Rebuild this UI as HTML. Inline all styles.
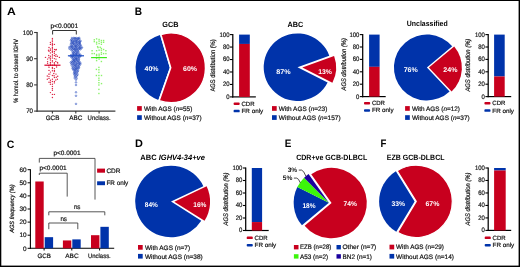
<!DOCTYPE html>
<html><head><meta charset="utf-8"><style>
html,body{margin:0;padding:0;background:#fff;}
body{width:520px;height:267px;overflow:hidden;}
svg{display:block;font-family:"Liberation Sans",sans-serif;text-rendering:geometricPrecision;will-change:transform;}
</style></head><body>
<svg width="520" height="267" viewBox="0 0 520 267" xmlns="http://www.w3.org/2000/svg">
<rect width="520" height="267" fill="#fff"/>
<rect x="0.00" y="0.00" width="520.00" height="1.00" fill="#000"/>
<rect x="0.00" y="0.00" width="1.30" height="267.00" fill="#000"/>
<rect x="518.60" y="0.00" width="1.40" height="267.00" fill="#000"/>
<rect x="0.00" y="265.60" width="520.00" height="1.40" fill="#000"/>
<text x="7.00" y="14.60" font-size="10.8" font-weight="bold" font-style="normal" fill="#000" stroke="#000" stroke-width="0.0" textLength="8.80" lengthAdjust="spacingAndGlyphs">A</text>
<text x="134.80" y="14.60" font-size="10.8" font-weight="bold" font-style="normal" fill="#000" stroke="#000" stroke-width="0.0" textLength="7.30" lengthAdjust="spacingAndGlyphs">B</text>
<text x="6.70" y="147.60" font-size="10.8" font-weight="bold" font-style="normal" fill="#000" stroke="#000" stroke-width="0.0" textLength="7.60" lengthAdjust="spacingAndGlyphs">C</text>
<text x="134.90" y="147.20" font-size="10.8" font-weight="bold" font-style="normal" fill="#000" stroke="#000" stroke-width="0.0" textLength="7.90" lengthAdjust="spacingAndGlyphs">D</text>
<text x="284.70" y="147.20" font-size="10.8" font-weight="bold" font-style="normal" fill="#000" stroke="#000" stroke-width="0.0" textLength="6.60" lengthAdjust="spacingAndGlyphs">E</text>
<text x="380.40" y="147.00" font-size="10.8" font-weight="bold" font-style="normal" fill="#000" stroke="#000" stroke-width="0.0" textLength="5.90" lengthAdjust="spacingAndGlyphs">F</text>
<line x1="37.10" y1="31.90" x2="37.10" y2="111.80" stroke="#3a3a3a" stroke-width="1.3"/>
<line x1="36.50" y1="111.10" x2="115.40" y2="111.10" stroke="#3a3a3a" stroke-width="1.3"/>
<line x1="34.10" y1="32.50" x2="37.10" y2="32.50" stroke="#3a3a3a" stroke-width="1.1"/>
<text x="22.73" y="34.80" font-size="6.5" font-weight="normal" fill="#151515" stroke="#151515" stroke-width="0.2" textLength="10.30" lengthAdjust="spacingAndGlyphs">100</text>
<line x1="34.10" y1="58.70" x2="37.10" y2="58.70" stroke="#3a3a3a" stroke-width="1.1"/>
<text x="26.16" y="61.00" font-size="6.5" font-weight="normal" fill="#151515" stroke="#151515" stroke-width="0.2" textLength="6.87" lengthAdjust="spacingAndGlyphs">90</text>
<line x1="34.10" y1="84.90" x2="37.10" y2="84.90" stroke="#3a3a3a" stroke-width="1.1"/>
<text x="26.16" y="87.20" font-size="6.5" font-weight="normal" fill="#151515" stroke="#151515" stroke-width="0.2" textLength="6.87" lengthAdjust="spacingAndGlyphs">80</text>
<line x1="34.10" y1="111.10" x2="37.10" y2="111.10" stroke="#3a3a3a" stroke-width="1.1"/>
<text x="26.16" y="113.40" font-size="6.5" font-weight="normal" fill="#151515" stroke="#151515" stroke-width="0.2" textLength="6.87" lengthAdjust="spacingAndGlyphs">70</text>
<line x1="52.40" y1="111.10" x2="52.40" y2="113.60" stroke="#3a3a3a" stroke-width="1.1"/>
<text x="45.71" y="120.10" font-size="6.4" font-weight="normal" font-style="normal" fill="#151515" stroke="#151515" stroke-width="0.2" textLength="13.68" lengthAdjust="spacingAndGlyphs">GCB</text>
<line x1="75.80" y1="111.10" x2="75.80" y2="113.60" stroke="#3a3a3a" stroke-width="1.1"/>
<text x="69.21" y="120.10" font-size="6.4" font-weight="normal" font-style="normal" fill="#151515" stroke="#151515" stroke-width="0.2" textLength="13.08" lengthAdjust="spacingAndGlyphs">ABC</text>
<line x1="99.10" y1="111.10" x2="99.10" y2="113.60" stroke="#3a3a3a" stroke-width="1.1"/>
<text x="87.61" y="120.10" font-size="6.4" font-weight="normal" font-style="normal" fill="#151515" stroke="#151515" stroke-width="0.2" textLength="22.98" lengthAdjust="spacingAndGlyphs">Unclass.</text>
<text transform="translate(17.70,70.90) rotate(-90)" font-size="6.3" font-style="normal" font-weight="normal" fill="#151515" stroke="#151515" stroke-width="0.2" text-anchor="middle" textLength="63.70" lengthAdjust="spacingAndGlyphs">% homol. to closest IGHV</text>
<text x="50.41" y="27.60" font-size="6.5" font-weight="normal" font-style="normal" fill="#151515" stroke="#151515" stroke-width="0.2" textLength="27.79" lengthAdjust="spacingAndGlyphs">p&lt;0.0001</text>
<path d="M52.6,34.5 V30.5 H76.3 V34.5" fill="none" stroke="#333" stroke-width="1"/>
<circle cx="52.40" cy="38.50" r="0.72" fill="#dc2848"/>
<circle cx="52.40" cy="39.90" r="0.72" fill="#dc2848"/>
<circle cx="52.40" cy="41.30" r="0.72" fill="#dc2848"/>
<circle cx="52.40" cy="43.30" r="0.72" fill="#dc2848"/>
<circle cx="52.40" cy="44.40" r="0.72" fill="#dc2848"/>
<circle cx="52.40" cy="45.80" r="0.72" fill="#dc2848"/>
<circle cx="52.40" cy="47.50" r="0.72" fill="#dc2848"/>
<circle cx="52.40" cy="48.60" r="0.72" fill="#dc2848"/>
<circle cx="52.40" cy="50.00" r="0.72" fill="#dc2848"/>
<circle cx="50.40" cy="42.50" r="0.72" fill="#dc2848"/>
<circle cx="50.40" cy="44.40" r="0.72" fill="#dc2848"/>
<circle cx="54.40" cy="44.40" r="0.72" fill="#dc2848"/>
<circle cx="49.00" cy="47.50" r="0.72" fill="#dc2848"/>
<circle cx="50.40" cy="48.90" r="0.72" fill="#dc2848"/>
<circle cx="54.60" cy="49.40" r="0.72" fill="#dc2848"/>
<circle cx="56.30" cy="49.50" r="0.72" fill="#dc2848"/>
<circle cx="48.50" cy="50.30" r="0.72" fill="#dc2848"/>
<circle cx="49.00" cy="51.20" r="0.72" fill="#dc2848"/>
<circle cx="50.40" cy="50.20" r="0.72" fill="#dc2848"/>
<circle cx="52.40" cy="51.40" r="0.72" fill="#dc2848"/>
<circle cx="54.40" cy="51.50" r="0.72" fill="#dc2848"/>
<circle cx="55.80" cy="49.90" r="0.72" fill="#dc2848"/>
<circle cx="50.40" cy="52.90" r="0.72" fill="#dc2848"/>
<circle cx="52.40" cy="52.60" r="0.72" fill="#dc2848"/>
<circle cx="54.40" cy="53.20" r="0.72" fill="#dc2848"/>
<circle cx="48.70" cy="55.50" r="0.72" fill="#dc2848"/>
<circle cx="50.40" cy="56.30" r="0.72" fill="#dc2848"/>
<circle cx="52.40" cy="54.60" r="0.72" fill="#dc2848"/>
<circle cx="52.40" cy="56.00" r="0.72" fill="#dc2848"/>
<circle cx="54.40" cy="55.50" r="0.72" fill="#dc2848"/>
<circle cx="56.00" cy="54.60" r="0.72" fill="#dc2848"/>
<circle cx="55.80" cy="56.30" r="0.72" fill="#dc2848"/>
<circle cx="57.40" cy="56.30" r="0.72" fill="#dc2848"/>
<circle cx="59.40" cy="57.40" r="0.72" fill="#dc2848"/>
<circle cx="45.50" cy="57.40" r="0.72" fill="#dc2848"/>
<circle cx="47.60" cy="59.10" r="0.72" fill="#dc2848"/>
<circle cx="49.00" cy="57.70" r="0.72" fill="#dc2848"/>
<circle cx="50.40" cy="58.30" r="0.72" fill="#dc2848"/>
<circle cx="52.40" cy="58.00" r="0.72" fill="#dc2848"/>
<circle cx="54.40" cy="58.60" r="0.72" fill="#dc2848"/>
<circle cx="56.00" cy="59.10" r="0.72" fill="#dc2848"/>
<circle cx="50.40" cy="60.00" r="0.72" fill="#dc2848"/>
<circle cx="52.40" cy="60.80" r="0.72" fill="#dc2848"/>
<circle cx="47.60" cy="61.60" r="0.72" fill="#dc2848"/>
<circle cx="50.40" cy="62.50" r="0.72" fill="#dc2848"/>
<circle cx="52.40" cy="61.90" r="0.72" fill="#dc2848"/>
<circle cx="55.80" cy="61.40" r="0.72" fill="#dc2848"/>
<circle cx="57.40" cy="62.50" r="0.72" fill="#dc2848"/>
<circle cx="54.40" cy="62.80" r="0.72" fill="#dc2848"/>
<circle cx="47.60" cy="63.30" r="0.72" fill="#dc2848"/>
<circle cx="57.70" cy="63.00" r="0.72" fill="#dc2848"/>
<circle cx="50.40" cy="64.00" r="0.72" fill="#dc2848"/>
<circle cx="54.40" cy="64.00" r="0.72" fill="#dc2848"/>
<circle cx="50.40" cy="65.30" r="0.72" fill="#dc2848"/>
<circle cx="52.40" cy="65.30" r="0.72" fill="#dc2848"/>
<circle cx="54.40" cy="65.30" r="0.72" fill="#dc2848"/>
<circle cx="48.60" cy="65.60" r="0.72" fill="#dc2848"/>
<circle cx="56.20" cy="65.60" r="0.72" fill="#dc2848"/>
<circle cx="49.00" cy="67.30" r="0.72" fill="#dc2848"/>
<circle cx="52.40" cy="67.50" r="0.72" fill="#dc2848"/>
<circle cx="56.60" cy="67.00" r="0.72" fill="#dc2848"/>
<circle cx="52.40" cy="68.60" r="0.72" fill="#dc2848"/>
<circle cx="54.40" cy="68.60" r="0.72" fill="#dc2848"/>
<circle cx="49.00" cy="70.40" r="0.72" fill="#dc2848"/>
<circle cx="50.40" cy="72.10" r="0.72" fill="#dc2848"/>
<circle cx="52.40" cy="70.70" r="0.72" fill="#dc2848"/>
<circle cx="54.40" cy="70.50" r="0.72" fill="#dc2848"/>
<circle cx="54.40" cy="71.60" r="0.72" fill="#dc2848"/>
<circle cx="48.70" cy="74.10" r="0.72" fill="#dc2848"/>
<circle cx="49.90" cy="74.10" r="0.72" fill="#dc2848"/>
<circle cx="53.80" cy="73.50" r="0.72" fill="#dc2848"/>
<circle cx="56.00" cy="74.10" r="0.72" fill="#dc2848"/>
<circle cx="47.30" cy="76.00" r="0.72" fill="#dc2848"/>
<circle cx="52.40" cy="75.50" r="0.72" fill="#dc2848"/>
<circle cx="54.10" cy="75.80" r="0.72" fill="#dc2848"/>
<circle cx="57.70" cy="76.30" r="0.72" fill="#dc2848"/>
<circle cx="49.00" cy="76.60" r="0.72" fill="#dc2848"/>
<circle cx="54.40" cy="77.50" r="0.72" fill="#dc2848"/>
<circle cx="56.30" cy="77.30" r="0.72" fill="#dc2848"/>
<circle cx="47.30" cy="79.20" r="0.72" fill="#dc2848"/>
<circle cx="49.00" cy="78.40" r="0.72" fill="#dc2848"/>
<circle cx="50.40" cy="80.30" r="0.72" fill="#dc2848"/>
<circle cx="52.40" cy="79.20" r="0.72" fill="#dc2848"/>
<circle cx="55.80" cy="80.00" r="0.72" fill="#dc2848"/>
<circle cx="57.40" cy="79.20" r="0.72" fill="#dc2848"/>
<circle cx="49.00" cy="82.30" r="0.72" fill="#dc2848"/>
<circle cx="50.40" cy="82.30" r="0.72" fill="#dc2848"/>
<circle cx="52.40" cy="81.50" r="0.72" fill="#dc2848"/>
<circle cx="54.40" cy="81.50" r="0.72" fill="#dc2848"/>
<circle cx="54.40" cy="82.90" r="0.72" fill="#dc2848"/>
<circle cx="50.40" cy="84.30" r="0.72" fill="#dc2848"/>
<circle cx="52.40" cy="84.30" r="0.72" fill="#dc2848"/>
<circle cx="52.40" cy="86.40" r="0.72" fill="#dc2848"/>
<circle cx="52.40" cy="88.50" r="0.72" fill="#dc2848"/>
<circle cx="52.40" cy="90.20" r="0.72" fill="#dc2848"/>
<circle cx="50.40" cy="92.60" r="0.72" fill="#dc2848"/>
<circle cx="52.40" cy="94.40" r="0.72" fill="#dc2848"/>
<circle cx="54.40" cy="94.40" r="0.72" fill="#dc2848"/>
<circle cx="52.40" cy="97.50" r="0.72" fill="#dc2848"/>
<circle cx="71.91" cy="38.05" r="0.8" fill="none" stroke="#2248bc" stroke-width="0.55"/>
<circle cx="73.79" cy="37.97" r="0.8" fill="none" stroke="#2248bc" stroke-width="0.55"/>
<circle cx="74.96" cy="38.07" r="0.8" fill="none" stroke="#2248bc" stroke-width="0.55"/>
<circle cx="76.20" cy="38.01" r="0.8" fill="none" stroke="#2248bc" stroke-width="0.55"/>
<circle cx="78.05" cy="38.23" r="0.8" fill="none" stroke="#2248bc" stroke-width="0.55"/>
<circle cx="79.13" cy="37.85" r="0.8" fill="none" stroke="#2248bc" stroke-width="0.55"/>
<circle cx="71.62" cy="39.54" r="0.8" fill="none" stroke="#2248bc" stroke-width="0.55"/>
<circle cx="73.60" cy="38.94" r="0.8" fill="none" stroke="#2248bc" stroke-width="0.55"/>
<circle cx="75.34" cy="39.66" r="0.8" fill="none" stroke="#2248bc" stroke-width="0.55"/>
<circle cx="76.57" cy="39.39" r="0.8" fill="none" stroke="#2248bc" stroke-width="0.55"/>
<circle cx="77.68" cy="38.92" r="0.8" fill="none" stroke="#2248bc" stroke-width="0.55"/>
<circle cx="79.47" cy="38.96" r="0.8" fill="none" stroke="#2248bc" stroke-width="0.55"/>
<circle cx="70.95" cy="40.40" r="0.8" fill="none" stroke="#2248bc" stroke-width="0.55"/>
<circle cx="72.32" cy="40.57" r="0.8" fill="none" stroke="#2248bc" stroke-width="0.55"/>
<circle cx="74.15" cy="40.87" r="0.8" fill="none" stroke="#2248bc" stroke-width="0.55"/>
<circle cx="75.72" cy="40.71" r="0.8" fill="none" stroke="#2248bc" stroke-width="0.55"/>
<circle cx="77.20" cy="40.73" r="0.8" fill="none" stroke="#2248bc" stroke-width="0.55"/>
<circle cx="78.67" cy="40.43" r="0.8" fill="none" stroke="#2248bc" stroke-width="0.55"/>
<circle cx="80.60" cy="40.99" r="0.8" fill="none" stroke="#2248bc" stroke-width="0.55"/>
<circle cx="71.47" cy="42.06" r="0.8" fill="none" stroke="#2248bc" stroke-width="0.55"/>
<circle cx="72.55" cy="41.69" r="0.8" fill="none" stroke="#2248bc" stroke-width="0.55"/>
<circle cx="74.03" cy="41.56" r="0.8" fill="none" stroke="#2248bc" stroke-width="0.55"/>
<circle cx="75.91" cy="41.82" r="0.8" fill="none" stroke="#2248bc" stroke-width="0.55"/>
<circle cx="77.48" cy="41.81" r="0.8" fill="none" stroke="#2248bc" stroke-width="0.55"/>
<circle cx="79.07" cy="42.17" r="0.8" fill="none" stroke="#2248bc" stroke-width="0.55"/>
<circle cx="79.80" cy="41.67" r="0.8" fill="none" stroke="#2248bc" stroke-width="0.55"/>
<circle cx="71.53" cy="43.18" r="0.8" fill="none" stroke="#2248bc" stroke-width="0.55"/>
<circle cx="73.08" cy="43.12" r="0.8" fill="none" stroke="#2248bc" stroke-width="0.55"/>
<circle cx="73.86" cy="43.30" r="0.8" fill="none" stroke="#2248bc" stroke-width="0.55"/>
<circle cx="75.92" cy="43.02" r="0.8" fill="none" stroke="#2248bc" stroke-width="0.55"/>
<circle cx="76.87" cy="43.07" r="0.8" fill="none" stroke="#2248bc" stroke-width="0.55"/>
<circle cx="79.07" cy="43.40" r="0.8" fill="none" stroke="#2248bc" stroke-width="0.55"/>
<circle cx="79.89" cy="43.00" r="0.8" fill="none" stroke="#2248bc" stroke-width="0.55"/>
<circle cx="70.88" cy="44.16" r="0.8" fill="none" stroke="#2248bc" stroke-width="0.55"/>
<circle cx="72.94" cy="44.25" r="0.8" fill="none" stroke="#2248bc" stroke-width="0.55"/>
<circle cx="74.25" cy="44.46" r="0.8" fill="none" stroke="#2248bc" stroke-width="0.55"/>
<circle cx="75.45" cy="44.68" r="0.8" fill="none" stroke="#2248bc" stroke-width="0.55"/>
<circle cx="76.90" cy="44.61" r="0.8" fill="none" stroke="#2248bc" stroke-width="0.55"/>
<circle cx="78.39" cy="44.44" r="0.8" fill="none" stroke="#2248bc" stroke-width="0.55"/>
<circle cx="79.97" cy="44.32" r="0.8" fill="none" stroke="#2248bc" stroke-width="0.55"/>
<circle cx="70.83" cy="46.04" r="0.8" fill="none" stroke="#2248bc" stroke-width="0.55"/>
<circle cx="71.79" cy="46.10" r="0.8" fill="none" stroke="#2248bc" stroke-width="0.55"/>
<circle cx="73.22" cy="45.72" r="0.8" fill="none" stroke="#2248bc" stroke-width="0.55"/>
<circle cx="75.23" cy="45.91" r="0.8" fill="none" stroke="#2248bc" stroke-width="0.55"/>
<circle cx="76.13" cy="46.18" r="0.8" fill="none" stroke="#2248bc" stroke-width="0.55"/>
<circle cx="77.72" cy="45.61" r="0.8" fill="none" stroke="#2248bc" stroke-width="0.55"/>
<circle cx="79.67" cy="45.67" r="0.8" fill="none" stroke="#2248bc" stroke-width="0.55"/>
<circle cx="80.79" cy="45.47" r="0.8" fill="none" stroke="#2248bc" stroke-width="0.55"/>
<circle cx="69.37" cy="47.16" r="0.8" fill="none" stroke="#2248bc" stroke-width="0.55"/>
<circle cx="70.99" cy="47.18" r="0.8" fill="none" stroke="#2248bc" stroke-width="0.55"/>
<circle cx="72.60" cy="47.06" r="0.8" fill="none" stroke="#2248bc" stroke-width="0.55"/>
<circle cx="74.57" cy="47.09" r="0.8" fill="none" stroke="#2248bc" stroke-width="0.55"/>
<circle cx="75.76" cy="47.39" r="0.8" fill="none" stroke="#2248bc" stroke-width="0.55"/>
<circle cx="76.95" cy="46.83" r="0.8" fill="none" stroke="#2248bc" stroke-width="0.55"/>
<circle cx="79.03" cy="47.35" r="0.8" fill="none" stroke="#2248bc" stroke-width="0.55"/>
<circle cx="80.00" cy="46.86" r="0.8" fill="none" stroke="#2248bc" stroke-width="0.55"/>
<circle cx="81.89" cy="47.44" r="0.8" fill="none" stroke="#2248bc" stroke-width="0.55"/>
<circle cx="69.46" cy="48.75" r="0.8" fill="none" stroke="#2248bc" stroke-width="0.55"/>
<circle cx="71.51" cy="48.48" r="0.8" fill="none" stroke="#2248bc" stroke-width="0.55"/>
<circle cx="72.64" cy="48.09" r="0.8" fill="none" stroke="#2248bc" stroke-width="0.55"/>
<circle cx="73.83" cy="48.76" r="0.8" fill="none" stroke="#2248bc" stroke-width="0.55"/>
<circle cx="75.49" cy="48.56" r="0.8" fill="none" stroke="#2248bc" stroke-width="0.55"/>
<circle cx="77.01" cy="48.65" r="0.8" fill="none" stroke="#2248bc" stroke-width="0.55"/>
<circle cx="78.78" cy="48.24" r="0.8" fill="none" stroke="#2248bc" stroke-width="0.55"/>
<circle cx="79.94" cy="48.57" r="0.8" fill="none" stroke="#2248bc" stroke-width="0.55"/>
<circle cx="81.36" cy="48.19" r="0.8" fill="none" stroke="#2248bc" stroke-width="0.55"/>
<circle cx="71.25" cy="49.97" r="0.8" fill="none" stroke="#2248bc" stroke-width="0.55"/>
<circle cx="72.79" cy="49.53" r="0.8" fill="none" stroke="#2248bc" stroke-width="0.55"/>
<circle cx="74.53" cy="49.47" r="0.8" fill="none" stroke="#2248bc" stroke-width="0.55"/>
<circle cx="75.31" cy="49.52" r="0.8" fill="none" stroke="#2248bc" stroke-width="0.55"/>
<circle cx="77.16" cy="49.36" r="0.8" fill="none" stroke="#2248bc" stroke-width="0.55"/>
<circle cx="78.44" cy="49.60" r="0.8" fill="none" stroke="#2248bc" stroke-width="0.55"/>
<circle cx="80.26" cy="49.41" r="0.8" fill="none" stroke="#2248bc" stroke-width="0.55"/>
<circle cx="72.59" cy="51.30" r="0.8" fill="none" stroke="#2248bc" stroke-width="0.55"/>
<circle cx="74.58" cy="51.12" r="0.8" fill="none" stroke="#2248bc" stroke-width="0.55"/>
<circle cx="75.85" cy="51.07" r="0.8" fill="none" stroke="#2248bc" stroke-width="0.55"/>
<circle cx="76.91" cy="50.64" r="0.8" fill="none" stroke="#2248bc" stroke-width="0.55"/>
<circle cx="78.31" cy="51.32" r="0.8" fill="none" stroke="#2248bc" stroke-width="0.55"/>
<circle cx="72.86" cy="52.66" r="0.8" fill="none" stroke="#2248bc" stroke-width="0.55"/>
<circle cx="73.82" cy="52.41" r="0.8" fill="none" stroke="#2248bc" stroke-width="0.55"/>
<circle cx="75.69" cy="52.48" r="0.8" fill="none" stroke="#2248bc" stroke-width="0.55"/>
<circle cx="77.06" cy="52.69" r="0.8" fill="none" stroke="#2248bc" stroke-width="0.55"/>
<circle cx="78.36" cy="52.34" r="0.8" fill="none" stroke="#2248bc" stroke-width="0.55"/>
<circle cx="72.89" cy="53.91" r="0.8" fill="none" stroke="#2248bc" stroke-width="0.55"/>
<circle cx="74.39" cy="53.76" r="0.8" fill="none" stroke="#2248bc" stroke-width="0.55"/>
<circle cx="75.93" cy="53.92" r="0.8" fill="none" stroke="#2248bc" stroke-width="0.55"/>
<circle cx="77.08" cy="53.74" r="0.8" fill="none" stroke="#2248bc" stroke-width="0.55"/>
<circle cx="79.02" cy="53.89" r="0.8" fill="none" stroke="#2248bc" stroke-width="0.55"/>
<circle cx="71.13" cy="55.13" r="0.8" fill="none" stroke="#2248bc" stroke-width="0.55"/>
<circle cx="72.99" cy="54.96" r="0.8" fill="none" stroke="#2248bc" stroke-width="0.55"/>
<circle cx="74.30" cy="54.81" r="0.8" fill="none" stroke="#2248bc" stroke-width="0.55"/>
<circle cx="75.77" cy="54.98" r="0.8" fill="none" stroke="#2248bc" stroke-width="0.55"/>
<circle cx="76.86" cy="55.01" r="0.8" fill="none" stroke="#2248bc" stroke-width="0.55"/>
<circle cx="79.09" cy="55.20" r="0.8" fill="none" stroke="#2248bc" stroke-width="0.55"/>
<circle cx="80.38" cy="54.81" r="0.8" fill="none" stroke="#2248bc" stroke-width="0.55"/>
<circle cx="70.64" cy="56.26" r="0.8" fill="none" stroke="#2248bc" stroke-width="0.55"/>
<circle cx="71.90" cy="56.46" r="0.8" fill="none" stroke="#2248bc" stroke-width="0.55"/>
<circle cx="73.12" cy="56.40" r="0.8" fill="none" stroke="#2248bc" stroke-width="0.55"/>
<circle cx="74.57" cy="56.28" r="0.8" fill="none" stroke="#2248bc" stroke-width="0.55"/>
<circle cx="76.43" cy="55.99" r="0.8" fill="none" stroke="#2248bc" stroke-width="0.55"/>
<circle cx="78.11" cy="56.20" r="0.8" fill="none" stroke="#2248bc" stroke-width="0.55"/>
<circle cx="79.54" cy="56.53" r="0.8" fill="none" stroke="#2248bc" stroke-width="0.55"/>
<circle cx="80.75" cy="55.82" r="0.8" fill="none" stroke="#2248bc" stroke-width="0.55"/>
<circle cx="71.79" cy="57.64" r="0.8" fill="none" stroke="#2248bc" stroke-width="0.55"/>
<circle cx="73.21" cy="57.24" r="0.8" fill="none" stroke="#2248bc" stroke-width="0.55"/>
<circle cx="75.27" cy="57.62" r="0.8" fill="none" stroke="#2248bc" stroke-width="0.55"/>
<circle cx="76.40" cy="57.81" r="0.8" fill="none" stroke="#2248bc" stroke-width="0.55"/>
<circle cx="77.81" cy="57.63" r="0.8" fill="none" stroke="#2248bc" stroke-width="0.55"/>
<circle cx="79.21" cy="57.45" r="0.8" fill="none" stroke="#2248bc" stroke-width="0.55"/>
<circle cx="72.94" cy="59.12" r="0.8" fill="none" stroke="#2248bc" stroke-width="0.55"/>
<circle cx="74.50" cy="58.71" r="0.8" fill="none" stroke="#2248bc" stroke-width="0.55"/>
<circle cx="75.77" cy="58.66" r="0.8" fill="none" stroke="#2248bc" stroke-width="0.55"/>
<circle cx="76.91" cy="58.80" r="0.8" fill="none" stroke="#2248bc" stroke-width="0.55"/>
<circle cx="78.97" cy="59.07" r="0.8" fill="none" stroke="#2248bc" stroke-width="0.55"/>
<circle cx="72.87" cy="60.45" r="0.8" fill="none" stroke="#2248bc" stroke-width="0.55"/>
<circle cx="74.02" cy="59.84" r="0.8" fill="none" stroke="#2248bc" stroke-width="0.55"/>
<circle cx="75.66" cy="59.92" r="0.8" fill="none" stroke="#2248bc" stroke-width="0.55"/>
<circle cx="76.97" cy="60.03" r="0.8" fill="none" stroke="#2248bc" stroke-width="0.55"/>
<circle cx="78.80" cy="60.10" r="0.8" fill="none" stroke="#2248bc" stroke-width="0.55"/>
<circle cx="71.80" cy="61.66" r="0.8" fill="none" stroke="#2248bc" stroke-width="0.55"/>
<circle cx="73.84" cy="61.36" r="0.8" fill="none" stroke="#2248bc" stroke-width="0.55"/>
<circle cx="74.61" cy="61.03" r="0.8" fill="none" stroke="#2248bc" stroke-width="0.55"/>
<circle cx="76.75" cy="61.04" r="0.8" fill="none" stroke="#2248bc" stroke-width="0.55"/>
<circle cx="78.12" cy="61.46" r="0.8" fill="none" stroke="#2248bc" stroke-width="0.55"/>
<circle cx="79.30" cy="61.63" r="0.8" fill="none" stroke="#2248bc" stroke-width="0.55"/>
<circle cx="70.82" cy="62.42" r="0.8" fill="none" stroke="#2248bc" stroke-width="0.55"/>
<circle cx="72.66" cy="62.33" r="0.8" fill="none" stroke="#2248bc" stroke-width="0.55"/>
<circle cx="74.46" cy="62.50" r="0.8" fill="none" stroke="#2248bc" stroke-width="0.55"/>
<circle cx="75.41" cy="62.35" r="0.8" fill="none" stroke="#2248bc" stroke-width="0.55"/>
<circle cx="77.30" cy="62.66" r="0.8" fill="none" stroke="#2248bc" stroke-width="0.55"/>
<circle cx="78.80" cy="62.82" r="0.8" fill="none" stroke="#2248bc" stroke-width="0.55"/>
<circle cx="80.45" cy="63.06" r="0.8" fill="none" stroke="#2248bc" stroke-width="0.55"/>
<circle cx="71.35" cy="63.77" r="0.8" fill="none" stroke="#2248bc" stroke-width="0.55"/>
<circle cx="72.68" cy="63.75" r="0.8" fill="none" stroke="#2248bc" stroke-width="0.55"/>
<circle cx="73.81" cy="63.98" r="0.8" fill="none" stroke="#2248bc" stroke-width="0.55"/>
<circle cx="75.87" cy="63.75" r="0.8" fill="none" stroke="#2248bc" stroke-width="0.55"/>
<circle cx="77.02" cy="63.88" r="0.8" fill="none" stroke="#2248bc" stroke-width="0.55"/>
<circle cx="78.86" cy="64.02" r="0.8" fill="none" stroke="#2248bc" stroke-width="0.55"/>
<circle cx="80.29" cy="64.20" r="0.8" fill="none" stroke="#2248bc" stroke-width="0.55"/>
<circle cx="71.86" cy="65.53" r="0.8" fill="none" stroke="#2248bc" stroke-width="0.55"/>
<circle cx="73.77" cy="64.98" r="0.8" fill="none" stroke="#2248bc" stroke-width="0.55"/>
<circle cx="75.30" cy="65.47" r="0.8" fill="none" stroke="#2248bc" stroke-width="0.55"/>
<circle cx="76.15" cy="65.26" r="0.8" fill="none" stroke="#2248bc" stroke-width="0.55"/>
<circle cx="78.05" cy="65.62" r="0.8" fill="none" stroke="#2248bc" stroke-width="0.55"/>
<circle cx="79.35" cy="65.35" r="0.8" fill="none" stroke="#2248bc" stroke-width="0.55"/>
<circle cx="73.00" cy="66.83" r="0.8" fill="none" stroke="#2248bc" stroke-width="0.55"/>
<circle cx="74.56" cy="66.57" r="0.8" fill="none" stroke="#2248bc" stroke-width="0.55"/>
<circle cx="75.82" cy="66.37" r="0.8" fill="none" stroke="#2248bc" stroke-width="0.55"/>
<circle cx="77.38" cy="66.85" r="0.8" fill="none" stroke="#2248bc" stroke-width="0.55"/>
<circle cx="78.81" cy="66.77" r="0.8" fill="none" stroke="#2248bc" stroke-width="0.55"/>
<circle cx="72.47" cy="68.21" r="0.8" fill="none" stroke="#2248bc" stroke-width="0.55"/>
<circle cx="74.58" cy="68.27" r="0.8" fill="none" stroke="#2248bc" stroke-width="0.55"/>
<circle cx="75.73" cy="68.13" r="0.8" fill="none" stroke="#2248bc" stroke-width="0.55"/>
<circle cx="77.06" cy="68.22" r="0.8" fill="none" stroke="#2248bc" stroke-width="0.55"/>
<circle cx="78.98" cy="67.78" r="0.8" fill="none" stroke="#2248bc" stroke-width="0.55"/>
<circle cx="73.12" cy="69.15" r="0.8" fill="none" stroke="#2248bc" stroke-width="0.55"/>
<circle cx="74.99" cy="69.41" r="0.8" fill="none" stroke="#2248bc" stroke-width="0.55"/>
<circle cx="76.44" cy="68.83" r="0.8" fill="none" stroke="#2248bc" stroke-width="0.55"/>
<circle cx="78.20" cy="68.86" r="0.8" fill="none" stroke="#2248bc" stroke-width="0.55"/>
<circle cx="73.69" cy="70.24" r="0.8" fill="none" stroke="#2248bc" stroke-width="0.55"/>
<circle cx="74.82" cy="70.72" r="0.8" fill="none" stroke="#2248bc" stroke-width="0.55"/>
<circle cx="76.16" cy="70.23" r="0.8" fill="none" stroke="#2248bc" stroke-width="0.55"/>
<circle cx="77.96" cy="70.67" r="0.8" fill="none" stroke="#2248bc" stroke-width="0.55"/>
<circle cx="74.47" cy="71.95" r="0.8" fill="none" stroke="#2248bc" stroke-width="0.55"/>
<circle cx="76.06" cy="71.79" r="0.8" fill="none" stroke="#2248bc" stroke-width="0.55"/>
<circle cx="77.56" cy="71.48" r="0.8" fill="none" stroke="#2248bc" stroke-width="0.55"/>
<circle cx="73.98" cy="73.12" r="0.8" fill="none" stroke="#2248bc" stroke-width="0.55"/>
<circle cx="75.53" cy="73.28" r="0.8" fill="none" stroke="#2248bc" stroke-width="0.55"/>
<circle cx="77.31" cy="73.12" r="0.8" fill="none" stroke="#2248bc" stroke-width="0.55"/>
<circle cx="74.47" cy="74.45" r="0.8" fill="none" stroke="#2248bc" stroke-width="0.55"/>
<circle cx="75.55" cy="74.31" r="0.8" fill="none" stroke="#2248bc" stroke-width="0.55"/>
<circle cx="77.48" cy="74.71" r="0.8" fill="none" stroke="#2248bc" stroke-width="0.55"/>
<circle cx="74.72" cy="75.97" r="0.8" fill="none" stroke="#2248bc" stroke-width="0.55"/>
<circle cx="76.82" cy="75.72" r="0.8" fill="none" stroke="#2248bc" stroke-width="0.55"/>
<circle cx="75.76" cy="76.77" r="0.8" fill="none" stroke="#2248bc" stroke-width="0.55"/>
<circle cx="74.60" cy="78.00" r="0.8" fill="none" stroke="#2248bc" stroke-width="0.55"/>
<circle cx="76.60" cy="78.20" r="0.8" fill="none" stroke="#2248bc" stroke-width="0.55"/>
<circle cx="76.00" cy="79.70" r="0.8" fill="none" stroke="#2248bc" stroke-width="0.55"/>
<circle cx="76.00" cy="82.40" r="0.8" fill="none" stroke="#2248bc" stroke-width="0.55"/>
<circle cx="76.00" cy="85.00" r="0.8" fill="none" stroke="#2248bc" stroke-width="0.55"/>
<circle cx="76.00" cy="92.30" r="0.8" fill="none" stroke="#2248bc" stroke-width="0.55"/>
<circle cx="76.00" cy="95.80" r="0.8" fill="none" stroke="#2248bc" stroke-width="0.55"/>
<circle cx="76.00" cy="103.90" r="0.8" fill="none" stroke="#2248bc" stroke-width="0.55"/>
<rect x="93.60" y="39.10" width="1.4" height="1.4" fill="#8cf26c"/>
<rect x="93.60" y="40.90" width="1.4" height="1.4" fill="#8cf26c"/>
<rect x="95.90" y="38.20" width="1.4" height="1.4" fill="#8cf26c"/>
<rect x="98.40" y="38.80" width="1.4" height="1.4" fill="#8cf26c"/>
<rect x="98.40" y="40.50" width="1.4" height="1.4" fill="#8cf26c"/>
<rect x="95.90" y="41.60" width="1.4" height="1.4" fill="#8cf26c"/>
<rect x="100.70" y="39.80" width="1.4" height="1.4" fill="#8cf26c"/>
<rect x="102.90" y="39.80" width="1.4" height="1.4" fill="#8cf26c"/>
<rect x="100.70" y="41.60" width="1.4" height="1.4" fill="#8cf26c"/>
<rect x="102.90" y="41.60" width="1.4" height="1.4" fill="#8cf26c"/>
<rect x="95.90" y="43.30" width="1.4" height="1.4" fill="#8cf26c"/>
<rect x="98.40" y="42.80" width="1.4" height="1.4" fill="#8cf26c"/>
<rect x="100.70" y="43.60" width="1.4" height="1.4" fill="#8cf26c"/>
<rect x="96.90" y="45.90" width="1.4" height="1.4" fill="#8cf26c"/>
<rect x="99.50" y="46.60" width="1.4" height="1.4" fill="#8cf26c"/>
<rect x="97.30" y="46.90" width="1.4" height="1.4" fill="#8cf26c"/>
<rect x="91.40" y="50.00" width="1.4" height="1.4" fill="#8cf26c"/>
<rect x="95.90" y="50.00" width="1.4" height="1.4" fill="#8cf26c"/>
<rect x="98.40" y="49.50" width="1.4" height="1.4" fill="#8cf26c"/>
<rect x="102.90" y="48.80" width="1.4" height="1.4" fill="#8cf26c"/>
<rect x="105.20" y="50.00" width="1.4" height="1.4" fill="#8cf26c"/>
<rect x="100.70" y="47.80" width="1.4" height="1.4" fill="#8cf26c"/>
<rect x="100.70" y="49.50" width="1.4" height="1.4" fill="#8cf26c"/>
<rect x="100.70" y="51.80" width="1.4" height="1.4" fill="#8cf26c"/>
<rect x="100.70" y="53.60" width="1.4" height="1.4" fill="#8cf26c"/>
<rect x="91.40" y="52.90" width="1.4" height="1.4" fill="#8cf26c"/>
<rect x="93.60" y="52.90" width="1.4" height="1.4" fill="#8cf26c"/>
<rect x="95.90" y="53.80" width="1.4" height="1.4" fill="#8cf26c"/>
<rect x="98.40" y="53.50" width="1.4" height="1.4" fill="#8cf26c"/>
<rect x="102.90" y="52.90" width="1.4" height="1.4" fill="#8cf26c"/>
<rect x="105.20" y="52.90" width="1.4" height="1.4" fill="#8cf26c"/>
<rect x="95.90" y="54.90" width="1.4" height="1.4" fill="#8cf26c"/>
<rect x="98.40" y="55.10" width="1.4" height="1.4" fill="#8cf26c"/>
<rect x="95.90" y="57.70" width="1.4" height="1.4" fill="#8cf26c"/>
<rect x="98.40" y="58.40" width="1.4" height="1.4" fill="#8cf26c"/>
<rect x="95.90" y="59.90" width="1.4" height="1.4" fill="#8cf26c"/>
<rect x="100.70" y="60.80" width="1.4" height="1.4" fill="#8cf26c"/>
<rect x="98.20" y="66.70" width="1.4" height="1.4" fill="#8cf26c"/>
<rect x="95.70" y="68.70" width="1.4" height="1.4" fill="#8cf26c"/>
<rect x="98.20" y="69.10" width="1.4" height="1.4" fill="#8cf26c"/>
<rect x="98.20" y="71.70" width="1.4" height="1.4" fill="#8cf26c"/>
<rect x="95.70" y="74.80" width="1.4" height="1.4" fill="#8cf26c"/>
<rect x="98.20" y="74.80" width="1.4" height="1.4" fill="#8cf26c"/>
<rect x="100.80" y="74.80" width="1.4" height="1.4" fill="#8cf26c"/>
<rect x="98.20" y="77.50" width="1.4" height="1.4" fill="#8cf26c"/>
<rect x="98.20" y="79.60" width="1.4" height="1.4" fill="#8cf26c"/>
<rect x="98.20" y="82.00" width="1.4" height="1.4" fill="#8cf26c"/>
<rect x="100.80" y="82.90" width="1.4" height="1.4" fill="#8cf26c"/>
<rect x="98.20" y="84.30" width="1.4" height="1.4" fill="#8cf26c"/>
<rect x="98.20" y="88.70" width="1.4" height="1.4" fill="#8cf26c"/>
<rect x="98.20" y="92.80" width="1.4" height="1.4" fill="#8cf26c"/>
<line x1="44.40" y1="65.20" x2="60.50" y2="65.20" stroke="#d6002a" stroke-width="1.2"/>
<line x1="67.90" y1="55.80" x2="84.00" y2="55.80" stroke="#1f4fc4" stroke-width="1.2"/>
<line x1="91.10" y1="57.60" x2="106.90" y2="57.60" stroke="#3ce81a" stroke-width="1.2"/>
<text x="162.36" y="27.10" font-size="7.5" font-weight="bold" font-style="normal" fill="#000" stroke="#000" stroke-width="0.0" textLength="16.18" lengthAdjust="spacingAndGlyphs">GCB</text>
<path d="M169.70,67.80 L158.32,99.94 A34.10,34.10 0 0 1 160.02,35.10 Z" fill="#0033aa"/>
<path d="M170.70,67.83 L160.82,34.46 A34.80,34.80 0 1 1 159.08,100.63 Z" fill="#c8001e" stroke="#fff" stroke-width="1.5" stroke-linejoin="miter"/>
<text x="144.49" y="70.60" font-size="6.8" font-weight="bold" font-style="normal" fill="#ffffff" stroke="#ffffff" stroke-width="0" textLength="14.01" lengthAdjust="spacingAndGlyphs">40%</text>
<text x="182.99" y="70.60" font-size="6.8" font-weight="bold" font-style="normal" fill="#ffffff" stroke="#ffffff" stroke-width="0" textLength="14.01" lengthAdjust="spacingAndGlyphs">60%</text>
<text x="287.56" y="26.50" font-size="7.5" font-weight="bold" font-style="normal" fill="#000" stroke="#000" stroke-width="0.0" textLength="15.78" lengthAdjust="spacingAndGlyphs">ABC</text>
<path d="M297.50,67.20 L327.62,82.54 A33.80,33.80 0 1 1 329.30,55.75 Z" fill="#0033aa"/>
<path d="M302.29,67.50 L334.09,56.05 A33.80,33.80 0 0 1 332.41,82.85 Z" fill="#c8001e"/>
<text x="276.19" y="73.50" font-size="6.8" font-weight="bold" font-style="normal" fill="#ffffff" stroke="#ffffff" stroke-width="0" textLength="14.31" lengthAdjust="spacingAndGlyphs">87%</text>
<text x="318.19" y="73.50" font-size="6.8" font-weight="bold" font-style="normal" fill="#ffffff" stroke="#ffffff" stroke-width="0" textLength="13.71" lengthAdjust="spacingAndGlyphs">13%</text>
<text x="406.76" y="26.40" font-size="7.5" font-weight="bold" font-style="normal" fill="#000" stroke="#000" stroke-width="0.0" textLength="40.97" lengthAdjust="spacingAndGlyphs">Unclassified</text>
<path d="M426.90,67.50 L449.62,91.44 A33.00,33.00 0 1 1 452.22,46.33 Z" fill="#0033aa"/>
<path d="M428.90,67.62 L454.21,46.45 A33.00,33.00 0 0 1 451.61,91.55 Z" fill="#c8001e"/>
<text x="403.69" y="72.00" font-size="6.8" font-weight="bold" font-style="normal" fill="#ffffff" stroke="#ffffff" stroke-width="0" textLength="14.11" lengthAdjust="spacingAndGlyphs">76%</text>
<text x="443.39" y="72.00" font-size="6.8" font-weight="bold" font-style="normal" fill="#ffffff" stroke="#ffffff" stroke-width="0" textLength="14.11" lengthAdjust="spacingAndGlyphs">24%</text>
<rect x="137.10" y="106.10" width="4.70" height="4.70" fill="#c8001e"/>
<text x="143.90" y="110.75" font-size="6.4" font-weight="normal" font-style="normal" fill="#151515" stroke="#151515" stroke-width="0.2" textLength="48.40" lengthAdjust="spacingAndGlyphs">With AGS (<tspan font-style="italic">n</tspan>=55)</text>
<rect x="137.10" y="115.20" width="4.70" height="4.70" fill="#0033aa"/>
<text x="143.90" y="119.85" font-size="6.4" font-weight="normal" font-style="normal" fill="#151515" stroke="#151515" stroke-width="0.2" textLength="57.70" lengthAdjust="spacingAndGlyphs">Without AGS (<tspan font-style="italic">n</tspan>=37)</text>
<rect x="272.00" y="106.10" width="4.70" height="4.70" fill="#c8001e"/>
<text x="278.80" y="110.75" font-size="6.4" font-weight="normal" font-style="normal" fill="#151515" stroke="#151515" stroke-width="0.2" textLength="48.50" lengthAdjust="spacingAndGlyphs">With AGS (<tspan font-style="italic">n</tspan>=23)</text>
<rect x="272.00" y="115.20" width="4.70" height="4.70" fill="#0033aa"/>
<text x="278.80" y="119.85" font-size="6.4" font-weight="normal" font-style="normal" fill="#151515" stroke="#151515" stroke-width="0.2" textLength="61.80" lengthAdjust="spacingAndGlyphs">Without AGS (<tspan font-style="italic">n</tspan>=157)</text>
<rect x="405.10" y="106.10" width="4.70" height="4.70" fill="#c8001e"/>
<text x="411.90" y="110.75" font-size="6.4" font-weight="normal" font-style="normal" fill="#151515" stroke="#151515" stroke-width="0.2" textLength="48.00" lengthAdjust="spacingAndGlyphs">With AGS (<tspan font-style="italic">n</tspan>=12)</text>
<rect x="405.10" y="115.20" width="4.70" height="4.70" fill="#0033aa"/>
<text x="411.90" y="119.85" font-size="6.4" font-weight="normal" font-style="normal" fill="#151515" stroke="#151515" stroke-width="0.2" textLength="57.80" lengthAdjust="spacingAndGlyphs">Without AGS (<tspan font-style="italic">n</tspan>=37)</text>
<line x1="232.80" y1="34.10" x2="232.80" y2="97.50" stroke="#000" stroke-width="1.25"/>
<line x1="232.20" y1="96.90" x2="255.80" y2="96.90" stroke="#000" stroke-width="1.2"/>
<line x1="230.00" y1="34.60" x2="232.80" y2="34.60" stroke="#000" stroke-width="1.1"/>
<text x="219.55" y="36.50" font-size="6.5" font-weight="normal" fill="#151515" stroke="#151515" stroke-width="0.2" textLength="9.97" lengthAdjust="spacingAndGlyphs">100</text>
<line x1="230.00" y1="47.06" x2="232.80" y2="47.06" stroke="#000" stroke-width="1.1"/>
<text x="222.88" y="48.96" font-size="6.5" font-weight="normal" fill="#151515" stroke="#151515" stroke-width="0.2" textLength="6.65" lengthAdjust="spacingAndGlyphs">80</text>
<line x1="230.00" y1="59.52" x2="232.80" y2="59.52" stroke="#000" stroke-width="1.1"/>
<text x="222.88" y="61.42" font-size="6.5" font-weight="normal" fill="#151515" stroke="#151515" stroke-width="0.2" textLength="6.65" lengthAdjust="spacingAndGlyphs">60</text>
<line x1="230.00" y1="71.98" x2="232.80" y2="71.98" stroke="#000" stroke-width="1.1"/>
<text x="222.88" y="73.88" font-size="6.5" font-weight="normal" fill="#151515" stroke="#151515" stroke-width="0.2" textLength="6.65" lengthAdjust="spacingAndGlyphs">40</text>
<line x1="230.00" y1="84.44" x2="232.80" y2="84.44" stroke="#000" stroke-width="1.1"/>
<text x="222.88" y="86.34" font-size="6.5" font-weight="normal" fill="#151515" stroke="#151515" stroke-width="0.2" textLength="6.65" lengthAdjust="spacingAndGlyphs">20</text>
<line x1="230.00" y1="96.90" x2="232.80" y2="96.90" stroke="#000" stroke-width="1.1"/>
<text x="226.20" y="98.80" font-size="6.5" font-weight="normal" fill="#151515" stroke="#151515" stroke-width="0.2" textLength="3.32" lengthAdjust="spacingAndGlyphs">0</text>
<rect x="239.10" y="34.60" width="10.70" height="9.34" fill="#0033aa"/>
<rect x="239.10" y="43.95" width="10.70" height="52.96" fill="#c8001e"/>
<text transform="translate(215.00,65.45) rotate(-90)" font-size="6.6" font-style="normal" font-weight="normal" fill="#151515" stroke="#151515" stroke-width="0.2" text-anchor="middle" textLength="52.23" lengthAdjust="spacingAndGlyphs">AGS distribution (%)</text>
<rect x="233.60" y="102.50" width="6.1" height="2.5" rx="0.9" fill="#c8001e"/>
<text x="241.52" y="105.80" font-size="6.2" font-weight="normal" font-style="normal" fill="#151515" stroke="#151515" stroke-width="0.2" textLength="13.06" lengthAdjust="spacingAndGlyphs">CDR</text>
<rect x="233.60" y="109.80" width="6.1" height="2.5" rx="0.9" fill="#0033aa"/>
<text x="241.52" y="113.00" font-size="6.2" font-weight="normal" font-style="normal" fill="#151515" stroke="#151515" stroke-width="0.2" textLength="21.66" lengthAdjust="spacingAndGlyphs">FR only</text>
<line x1="362.70" y1="34.10" x2="362.70" y2="97.20" stroke="#000" stroke-width="1.25"/>
<line x1="362.10" y1="96.60" x2="385.70" y2="96.60" stroke="#000" stroke-width="1.2"/>
<line x1="359.90" y1="34.60" x2="362.70" y2="34.60" stroke="#000" stroke-width="1.1"/>
<text x="349.45" y="36.50" font-size="6.5" font-weight="normal" fill="#151515" stroke="#151515" stroke-width="0.2" textLength="9.97" lengthAdjust="spacingAndGlyphs">100</text>
<line x1="359.90" y1="47.00" x2="362.70" y2="47.00" stroke="#000" stroke-width="1.1"/>
<text x="352.78" y="48.90" font-size="6.5" font-weight="normal" fill="#151515" stroke="#151515" stroke-width="0.2" textLength="6.65" lengthAdjust="spacingAndGlyphs">80</text>
<line x1="359.90" y1="59.40" x2="362.70" y2="59.40" stroke="#000" stroke-width="1.1"/>
<text x="352.78" y="61.30" font-size="6.5" font-weight="normal" fill="#151515" stroke="#151515" stroke-width="0.2" textLength="6.65" lengthAdjust="spacingAndGlyphs">60</text>
<line x1="359.90" y1="71.80" x2="362.70" y2="71.80" stroke="#000" stroke-width="1.1"/>
<text x="352.78" y="73.70" font-size="6.5" font-weight="normal" fill="#151515" stroke="#151515" stroke-width="0.2" textLength="6.65" lengthAdjust="spacingAndGlyphs">40</text>
<line x1="359.90" y1="84.20" x2="362.70" y2="84.20" stroke="#000" stroke-width="1.1"/>
<text x="352.78" y="86.10" font-size="6.5" font-weight="normal" fill="#151515" stroke="#151515" stroke-width="0.2" textLength="6.65" lengthAdjust="spacingAndGlyphs">20</text>
<line x1="359.90" y1="96.60" x2="362.70" y2="96.60" stroke="#000" stroke-width="1.1"/>
<text x="356.10" y="98.50" font-size="6.5" font-weight="normal" fill="#151515" stroke="#151515" stroke-width="0.2" textLength="3.32" lengthAdjust="spacingAndGlyphs">0</text>
<rect x="369.10" y="34.60" width="10.50" height="32.24" fill="#0033aa"/>
<rect x="369.10" y="66.84" width="10.50" height="29.76" fill="#c8001e"/>
<text transform="translate(345.50,64.30) rotate(-90)" font-size="6.6" font-style="italic" font-weight="normal" fill="#151515" stroke="#151515" stroke-width="0.2" text-anchor="middle" textLength="52.33" lengthAdjust="spacingAndGlyphs">AGS distribution (%)</text>
<rect x="364.00" y="101.90" width="6.1" height="2.5" rx="0.9" fill="#c8001e"/>
<text x="371.92" y="105.20" font-size="6.2" font-weight="normal" font-style="normal" fill="#151515" stroke="#151515" stroke-width="0.2" textLength="13.06" lengthAdjust="spacingAndGlyphs">CDR</text>
<rect x="364.00" y="109.20" width="6.1" height="2.5" rx="0.9" fill="#0033aa"/>
<text x="371.92" y="112.40" font-size="6.2" font-weight="normal" font-style="normal" fill="#151515" stroke="#151515" stroke-width="0.2" textLength="21.66" lengthAdjust="spacingAndGlyphs">FR only</text>
<line x1="488.20" y1="34.10" x2="488.20" y2="97.20" stroke="#000" stroke-width="1.25"/>
<line x1="487.60" y1="96.60" x2="511.20" y2="96.60" stroke="#000" stroke-width="1.2"/>
<line x1="485.40" y1="34.60" x2="488.20" y2="34.60" stroke="#000" stroke-width="1.1"/>
<text x="474.95" y="36.50" font-size="6.5" font-weight="normal" fill="#151515" stroke="#151515" stroke-width="0.2" textLength="9.97" lengthAdjust="spacingAndGlyphs">100</text>
<line x1="485.40" y1="47.00" x2="488.20" y2="47.00" stroke="#000" stroke-width="1.1"/>
<text x="478.28" y="48.90" font-size="6.5" font-weight="normal" fill="#151515" stroke="#151515" stroke-width="0.2" textLength="6.65" lengthAdjust="spacingAndGlyphs">80</text>
<line x1="485.40" y1="59.40" x2="488.20" y2="59.40" stroke="#000" stroke-width="1.1"/>
<text x="478.28" y="61.30" font-size="6.5" font-weight="normal" fill="#151515" stroke="#151515" stroke-width="0.2" textLength="6.65" lengthAdjust="spacingAndGlyphs">60</text>
<line x1="485.40" y1="71.80" x2="488.20" y2="71.80" stroke="#000" stroke-width="1.1"/>
<text x="478.28" y="73.70" font-size="6.5" font-weight="normal" fill="#151515" stroke="#151515" stroke-width="0.2" textLength="6.65" lengthAdjust="spacingAndGlyphs">40</text>
<line x1="485.40" y1="84.20" x2="488.20" y2="84.20" stroke="#000" stroke-width="1.1"/>
<text x="478.28" y="86.10" font-size="6.5" font-weight="normal" fill="#151515" stroke="#151515" stroke-width="0.2" textLength="6.65" lengthAdjust="spacingAndGlyphs">20</text>
<line x1="485.40" y1="96.60" x2="488.20" y2="96.60" stroke="#000" stroke-width="1.1"/>
<text x="481.60" y="98.50" font-size="6.5" font-weight="normal" fill="#151515" stroke="#151515" stroke-width="0.2" textLength="3.32" lengthAdjust="spacingAndGlyphs">0</text>
<rect x="494.10" y="34.60" width="10.60" height="41.85" fill="#0033aa"/>
<rect x="494.10" y="76.45" width="10.60" height="20.15" fill="#c8001e"/>
<text transform="translate(470.30,65.15) rotate(-90)" font-size="6.6" font-style="italic" font-weight="normal" fill="#151515" stroke="#151515" stroke-width="0.2" text-anchor="middle" textLength="52.83" lengthAdjust="spacingAndGlyphs">AGS distribution (%)</text>
<rect x="484.40" y="102.00" width="6.1" height="2.5" rx="0.9" fill="#c8001e"/>
<text x="492.32" y="105.30" font-size="6.2" font-weight="normal" font-style="normal" fill="#151515" stroke="#151515" stroke-width="0.2" textLength="13.06" lengthAdjust="spacingAndGlyphs">CDR</text>
<rect x="484.40" y="109.30" width="6.1" height="2.5" rx="0.9" fill="#0033aa"/>
<text x="492.32" y="112.50" font-size="6.2" font-weight="normal" font-style="normal" fill="#151515" stroke="#151515" stroke-width="0.2" textLength="21.66" lengthAdjust="spacingAndGlyphs">FR only</text>
<line x1="245.70" y1="167.50" x2="245.70" y2="231.10" stroke="#000" stroke-width="1.25"/>
<line x1="245.10" y1="230.50" x2="268.70" y2="230.50" stroke="#000" stroke-width="1.2"/>
<line x1="242.90" y1="168.00" x2="245.70" y2="168.00" stroke="#000" stroke-width="1.1"/>
<text x="232.45" y="169.90" font-size="6.5" font-weight="normal" fill="#151515" stroke="#151515" stroke-width="0.2" textLength="9.97" lengthAdjust="spacingAndGlyphs">100</text>
<line x1="242.90" y1="180.50" x2="245.70" y2="180.50" stroke="#000" stroke-width="1.1"/>
<text x="235.78" y="182.40" font-size="6.5" font-weight="normal" fill="#151515" stroke="#151515" stroke-width="0.2" textLength="6.65" lengthAdjust="spacingAndGlyphs">80</text>
<line x1="242.90" y1="193.00" x2="245.70" y2="193.00" stroke="#000" stroke-width="1.1"/>
<text x="235.78" y="194.90" font-size="6.5" font-weight="normal" fill="#151515" stroke="#151515" stroke-width="0.2" textLength="6.65" lengthAdjust="spacingAndGlyphs">60</text>
<line x1="242.90" y1="205.50" x2="245.70" y2="205.50" stroke="#000" stroke-width="1.1"/>
<text x="235.78" y="207.40" font-size="6.5" font-weight="normal" fill="#151515" stroke="#151515" stroke-width="0.2" textLength="6.65" lengthAdjust="spacingAndGlyphs">40</text>
<line x1="242.90" y1="218.00" x2="245.70" y2="218.00" stroke="#000" stroke-width="1.1"/>
<text x="235.78" y="219.90" font-size="6.5" font-weight="normal" fill="#151515" stroke="#151515" stroke-width="0.2" textLength="6.65" lengthAdjust="spacingAndGlyphs">20</text>
<line x1="242.90" y1="230.50" x2="245.70" y2="230.50" stroke="#000" stroke-width="1.1"/>
<text x="239.10" y="232.40" font-size="6.5" font-weight="normal" fill="#151515" stroke="#151515" stroke-width="0.2" textLength="3.32" lengthAdjust="spacingAndGlyphs">0</text>
<rect x="251.80" y="168.00" width="10.30" height="54.06" fill="#0033aa"/>
<rect x="251.80" y="222.06" width="10.30" height="8.44" fill="#c8001e"/>
<text transform="translate(228.10,199.05) rotate(-90)" font-size="6.6" font-style="italic" font-weight="normal" fill="#151515" stroke="#151515" stroke-width="0.2" text-anchor="middle" textLength="52.83" lengthAdjust="spacingAndGlyphs">AGS distribution (%)</text>
<rect x="246.70" y="236.60" width="6.1" height="2.5" rx="0.9" fill="#c8001e"/>
<text x="254.62" y="239.90" font-size="6.2" font-weight="normal" font-style="normal" fill="#151515" stroke="#151515" stroke-width="0.2" textLength="13.06" lengthAdjust="spacingAndGlyphs">CDR</text>
<rect x="246.70" y="243.90" width="6.1" height="2.5" rx="0.9" fill="#0033aa"/>
<text x="254.62" y="247.10" font-size="6.2" font-weight="normal" font-style="normal" fill="#151515" stroke="#151515" stroke-width="0.2" textLength="21.66" lengthAdjust="spacingAndGlyphs">FR only</text>
<line x1="488.20" y1="167.50" x2="488.20" y2="231.00" stroke="#000" stroke-width="1.25"/>
<line x1="487.60" y1="230.40" x2="511.20" y2="230.40" stroke="#000" stroke-width="1.2"/>
<line x1="485.40" y1="168.00" x2="488.20" y2="168.00" stroke="#000" stroke-width="1.1"/>
<text x="474.95" y="169.90" font-size="6.5" font-weight="normal" fill="#151515" stroke="#151515" stroke-width="0.2" textLength="9.97" lengthAdjust="spacingAndGlyphs">100</text>
<line x1="485.40" y1="180.48" x2="488.20" y2="180.48" stroke="#000" stroke-width="1.1"/>
<text x="478.28" y="182.38" font-size="6.5" font-weight="normal" fill="#151515" stroke="#151515" stroke-width="0.2" textLength="6.65" lengthAdjust="spacingAndGlyphs">80</text>
<line x1="485.40" y1="192.96" x2="488.20" y2="192.96" stroke="#000" stroke-width="1.1"/>
<text x="478.28" y="194.86" font-size="6.5" font-weight="normal" fill="#151515" stroke="#151515" stroke-width="0.2" textLength="6.65" lengthAdjust="spacingAndGlyphs">60</text>
<line x1="485.40" y1="205.44" x2="488.20" y2="205.44" stroke="#000" stroke-width="1.1"/>
<text x="478.28" y="207.34" font-size="6.5" font-weight="normal" fill="#151515" stroke="#151515" stroke-width="0.2" textLength="6.65" lengthAdjust="spacingAndGlyphs">40</text>
<line x1="485.40" y1="217.92" x2="488.20" y2="217.92" stroke="#000" stroke-width="1.1"/>
<text x="478.28" y="219.82" font-size="6.5" font-weight="normal" fill="#151515" stroke="#151515" stroke-width="0.2" textLength="6.65" lengthAdjust="spacingAndGlyphs">20</text>
<line x1="485.40" y1="230.40" x2="488.20" y2="230.40" stroke="#000" stroke-width="1.1"/>
<text x="481.60" y="232.30" font-size="6.5" font-weight="normal" fill="#151515" stroke="#151515" stroke-width="0.2" textLength="3.32" lengthAdjust="spacingAndGlyphs">0</text>
<rect x="494.10" y="168.00" width="11.60" height="2.50" fill="#0033aa"/>
<rect x="494.10" y="170.50" width="11.60" height="59.90" fill="#c8001e"/>
<text transform="translate(470.20,199.05) rotate(-90)" font-size="6.6" font-style="italic" font-weight="normal" fill="#151515" stroke="#151515" stroke-width="0.2" text-anchor="middle" textLength="52.83" lengthAdjust="spacingAndGlyphs">AGS distribution (%)</text>
<rect x="484.70" y="236.60" width="6.1" height="2.5" rx="0.9" fill="#c8001e"/>
<text x="492.62" y="239.90" font-size="6.2" font-weight="normal" font-style="normal" fill="#151515" stroke="#151515" stroke-width="0.2" textLength="13.06" lengthAdjust="spacingAndGlyphs">CDR</text>
<rect x="484.70" y="243.90" width="6.1" height="2.5" rx="0.9" fill="#0033aa"/>
<text x="492.62" y="247.10" font-size="6.2" font-weight="normal" font-style="normal" fill="#151515" stroke="#151515" stroke-width="0.2" textLength="21.66" lengthAdjust="spacingAndGlyphs">FR only</text>
<line x1="30.40" y1="169.20" x2="30.40" y2="248.80" stroke="#000" stroke-width="1.1"/>
<line x1="29.90" y1="248.30" x2="114.20" y2="248.30" stroke="#000" stroke-width="1.1"/>
<line x1="27.60" y1="169.70" x2="30.40" y2="169.70" stroke="#000" stroke-width="1.0"/>
<text x="19.50" y="171.90" font-size="6.4" font-weight="normal" fill="#151515" stroke="#151515" stroke-width="0.2" textLength="7.12" lengthAdjust="spacingAndGlyphs">60</text>
<line x1="27.60" y1="182.80" x2="30.40" y2="182.80" stroke="#000" stroke-width="1.0"/>
<text x="19.50" y="185.00" font-size="6.4" font-weight="normal" fill="#151515" stroke="#151515" stroke-width="0.2" textLength="7.12" lengthAdjust="spacingAndGlyphs">50</text>
<line x1="27.60" y1="195.90" x2="30.40" y2="195.90" stroke="#000" stroke-width="1.0"/>
<text x="19.50" y="198.10" font-size="6.4" font-weight="normal" fill="#151515" stroke="#151515" stroke-width="0.2" textLength="7.12" lengthAdjust="spacingAndGlyphs">40</text>
<line x1="27.60" y1="209.00" x2="30.40" y2="209.00" stroke="#000" stroke-width="1.0"/>
<text x="19.50" y="211.20" font-size="6.4" font-weight="normal" fill="#151515" stroke="#151515" stroke-width="0.2" textLength="7.12" lengthAdjust="spacingAndGlyphs">30</text>
<line x1="27.60" y1="222.10" x2="30.40" y2="222.10" stroke="#000" stroke-width="1.0"/>
<text x="19.50" y="224.30" font-size="6.4" font-weight="normal" fill="#151515" stroke="#151515" stroke-width="0.2" textLength="7.12" lengthAdjust="spacingAndGlyphs">20</text>
<line x1="27.60" y1="235.20" x2="30.40" y2="235.20" stroke="#000" stroke-width="1.0"/>
<text x="19.50" y="237.40" font-size="6.4" font-weight="normal" fill="#151515" stroke="#151515" stroke-width="0.2" textLength="7.12" lengthAdjust="spacingAndGlyphs">10</text>
<line x1="27.60" y1="248.30" x2="30.40" y2="248.30" stroke="#000" stroke-width="1.0"/>
<text x="23.06" y="250.50" font-size="6.4" font-weight="normal" fill="#151515" stroke="#151515" stroke-width="0.2" textLength="3.56" lengthAdjust="spacingAndGlyphs">0</text>
<line x1="44.10" y1="248.30" x2="44.10" y2="250.50" stroke="#000" stroke-width="1.0"/>
<text x="37.52" y="257.70" font-size="6.3" font-weight="normal" font-style="normal" fill="#151515" stroke="#151515" stroke-width="0.2" textLength="13.37" lengthAdjust="spacingAndGlyphs">GCB</text>
<line x1="71.80" y1="248.30" x2="71.80" y2="250.50" stroke="#000" stroke-width="1.0"/>
<text x="65.22" y="257.70" font-size="6.3" font-weight="normal" font-style="normal" fill="#151515" stroke="#151515" stroke-width="0.2" textLength="13.37" lengthAdjust="spacingAndGlyphs">ABC</text>
<line x1="99.60" y1="248.30" x2="99.60" y2="250.50" stroke="#000" stroke-width="1.0"/>
<text x="87.92" y="257.70" font-size="6.3" font-weight="normal" font-style="normal" fill="#151515" stroke="#151515" stroke-width="0.2" textLength="22.87" lengthAdjust="spacingAndGlyphs">Unclass.</text>
<rect x="35.30" y="181.49" width="8.40" height="66.81" fill="#c8001e"/>
<rect x="44.70" y="237.17" width="8.40" height="11.13" fill="#0033aa"/>
<rect x="62.90" y="240.44" width="8.40" height="7.86" fill="#c8001e"/>
<rect x="72.30" y="239.39" width="8.40" height="8.91" fill="#0033aa"/>
<rect x="91.00" y="235.20" width="8.40" height="13.10" fill="#c8001e"/>
<rect x="100.40" y="226.82" width="8.40" height="21.48" fill="#0033aa"/>
<text transform="translate(14.00,208.60) rotate(-90)" font-size="6.1" font-style="italic" font-weight="normal" fill="#151515" stroke="#151515" stroke-width="0.2" text-anchor="middle" textLength="48.29" lengthAdjust="spacingAndGlyphs">AGS frequency (%)</text>
<text x="53.42" y="154.90" font-size="6.3" font-weight="normal" font-style="normal" fill="#151515" stroke="#151515" stroke-width="0.2" textLength="27.07" lengthAdjust="spacingAndGlyphs">p&lt;0.0001</text>
<path d="M39.3,162.6 V158.4 H95.0 V199.6" fill="none" stroke="#444" stroke-width="0.9"/>
<text x="39.42" y="170.10" font-size="6.3" font-weight="normal" font-style="normal" fill="#151515" stroke="#151515" stroke-width="0.2" textLength="27.27" lengthAdjust="spacingAndGlyphs">p&lt;0.0001</text>
<path d="M39.3,175.0 V173.2 H67.2 V196.6" fill="none" stroke="#444" stroke-width="0.9"/>
<text x="73.90" y="208.80" font-size="6.7" font-weight="normal" font-style="normal" fill="#151515" stroke="#151515" stroke-width="0.2" textLength="6.60" lengthAdjust="spacingAndGlyphs">ns</text>
<path d="M48.8,215.3 V211.8 H104.8 V215.3" fill="none" stroke="#444" stroke-width="0.9"/>
<text x="60.40" y="220.50" font-size="6.7" font-weight="normal" font-style="normal" fill="#151515" stroke="#151515" stroke-width="0.2" textLength="6.60" lengthAdjust="spacingAndGlyphs">ns</text>
<path d="M48.8,229.2 V223.0 H77.8 V229.2" fill="none" stroke="#444" stroke-width="0.9"/>
<rect x="97.10" y="168.60" width="7.90" height="4.10" fill="#c8001e"/>
<text x="106.41" y="172.80" font-size="6.4" font-weight="normal" font-style="normal" fill="#151515" stroke="#151515" stroke-width="0.2" textLength="14.08" lengthAdjust="spacingAndGlyphs">CDR</text>
<rect x="97.10" y="181.30" width="7.90" height="3.90" fill="#0033aa"/>
<text x="106.41" y="185.30" font-size="6.4" font-weight="normal" font-style="normal" fill="#151515" stroke="#151515" stroke-width="0.2" textLength="21.88" lengthAdjust="spacingAndGlyphs">FR only</text>
<text x="140.35" y="159.80" font-size="7.8" font-weight="bold" font-style="normal" fill="#000" stroke="#000" stroke-width="0.0" textLength="64.60" lengthAdjust="spacingAndGlyphs">ABC <tspan font-style="italic">IGHV4-34+ve</tspan></text>
<path d="M171.00,201.50 L201.26,220.63 A35.80,35.80 0 1 1 203.34,186.14 Z" fill="#0033aa"/>
<path d="M174.29,201.70 L206.63,186.34 A35.80,35.80 0 0 1 204.55,220.83 Z" fill="#c8001e"/>
<text x="144.79" y="207.00" font-size="6.8" font-weight="bold" font-style="normal" fill="#ffffff" stroke="#ffffff" stroke-width="0" textLength="13.01" lengthAdjust="spacingAndGlyphs">84%</text>
<text x="193.29" y="207.00" font-size="6.8" font-weight="bold" font-style="normal" fill="#ffffff" stroke="#ffffff" stroke-width="0" textLength="13.21" lengthAdjust="spacingAndGlyphs">16%</text>
<rect x="138.00" y="245.00" width="4.70" height="4.70" fill="#c8001e"/>
<text x="144.90" y="249.65" font-size="6.4" font-weight="normal" font-style="normal" fill="#151515" stroke="#151515" stroke-width="0.2" textLength="45.20" lengthAdjust="spacingAndGlyphs">With AGS (n=7)</text>
<rect x="138.00" y="253.90" width="4.70" height="4.70" fill="#0033aa"/>
<text x="144.90" y="258.55" font-size="6.4" font-weight="normal" font-style="normal" fill="#151515" stroke="#151515" stroke-width="0.2" textLength="57.80" lengthAdjust="spacingAndGlyphs">Without AGS (n=38)</text>
<text x="296.15" y="159.80" font-size="7.7" font-weight="bold" font-style="normal" fill="#000" stroke="#000" stroke-width="0.0" textLength="71.09" lengthAdjust="spacingAndGlyphs">CDR+ve GCB-DLBCL</text>
<path d="M328.90,202.70 L301.94,225.33 A35.20,35.20 0 0 1 297.34,187.10 Z" fill="#0033aa"/>
<path d="M328.90,202.70 L297.34,187.10 A35.20,35.20 0 0 1 304.10,177.72 Z" fill="#3cf50a"/>
<path d="M328.90,202.70 L304.10,177.72 A35.20,35.20 0 0 1 308.56,173.97 Z" fill="#1a009e"/>
<path d="M331.58,203.05 L311.24,174.32 A35.20,35.20 0 1 1 304.61,225.67 Z" fill="#c8001e"/>
<text x="302.39" y="207.50" font-size="6.8" font-weight="bold" font-style="normal" fill="#ffffff" stroke="#ffffff" stroke-width="0" textLength="13.11" lengthAdjust="spacingAndGlyphs">18%</text>
<text x="343.49" y="206.30" font-size="6.8" font-weight="bold" font-style="normal" fill="#ffffff" stroke="#ffffff" stroke-width="0" textLength="13.31" lengthAdjust="spacingAndGlyphs">74%</text>
<text x="287.65" y="172.30" font-size="6.4" font-weight="bold" font-style="normal" fill="#151515" stroke="#151515" stroke-width="0.0" textLength="9.50" lengthAdjust="spacingAndGlyphs">3%</text>
<text x="282.75" y="180.10" font-size="6.4" font-weight="bold" font-style="normal" fill="#151515" stroke="#151515" stroke-width="0.0" textLength="9.60" lengthAdjust="spacingAndGlyphs">5%</text>
<path d="M298.8,170.1 H301.6 Q303.6,170.3 306.0,176.4" fill="none" stroke="#222" stroke-width="0.8"/>
<path d="M293.9,178.1 H296.8 Q298.6,178.4 300.3,182.8" fill="none" stroke="#222" stroke-width="0.8"/>
<rect x="293.90" y="245.00" width="4.60" height="4.40" fill="#c8001e"/>
<text x="300.00" y="249.40" font-size="6.4" font-weight="normal" font-style="normal" fill="#151515" stroke="#151515" stroke-width="0.2" textLength="31.30" lengthAdjust="spacingAndGlyphs">EZB (n=28)</text>
<rect x="293.90" y="254.20" width="4.60" height="4.40" fill="#3cf50a"/>
<text x="300.00" y="258.60" font-size="6.4" font-weight="normal" font-style="normal" fill="#151515" stroke="#151515" stroke-width="0.2" textLength="28.10" lengthAdjust="spacingAndGlyphs">A53 (n=2)</text>
<rect x="336.50" y="245.00" width="4.40" height="4.40" fill="#0033aa"/>
<text x="342.50" y="249.40" font-size="6.4" font-weight="normal" font-style="normal" fill="#151515" stroke="#151515" stroke-width="0.2" textLength="33.80" lengthAdjust="spacingAndGlyphs">Other (n=7)</text>
<rect x="336.50" y="254.20" width="4.40" height="4.40" fill="#1a009e"/>
<text x="342.50" y="258.60" font-size="6.4" font-weight="normal" font-style="normal" fill="#151515" stroke="#151515" stroke-width="0.2" textLength="29.40" lengthAdjust="spacingAndGlyphs">BN2 (n=1)</text>
<text x="386.85" y="159.70" font-size="7.7" font-weight="bold" font-style="normal" fill="#000" stroke="#000" stroke-width="0.0" textLength="57.69" lengthAdjust="spacingAndGlyphs">EZB GCB-DLBCL</text>
<path d="M414.60,201.40 L396.32,231.83 A35.50,35.50 0 0 1 395.89,171.23 Z" fill="#0033aa"/>
<path d="M416.20,201.39 L397.18,170.71 A36.10,36.10 0 1 1 397.61,232.33 Z" fill="#c8001e" stroke="#fff" stroke-width="1.2" stroke-linejoin="miter"/>
<text x="391.49" y="206.00" font-size="6.8" font-weight="bold" font-style="normal" fill="#ffffff" stroke="#ffffff" stroke-width="0" textLength="13.51" lengthAdjust="spacingAndGlyphs">33%</text>
<text x="425.49" y="206.00" font-size="6.8" font-weight="bold" font-style="normal" fill="#ffffff" stroke="#ffffff" stroke-width="0" textLength="13.91" lengthAdjust="spacingAndGlyphs">67%</text>
<rect x="389.50" y="244.70" width="4.70" height="4.70" fill="#c8001e"/>
<text x="396.10" y="249.35" font-size="6.4" font-weight="normal" font-style="normal" fill="#151515" stroke="#151515" stroke-width="0.2" textLength="47.80" lengthAdjust="spacingAndGlyphs">With AGS (n=29)</text>
<rect x="389.50" y="253.90" width="4.70" height="4.70" fill="#0033aa"/>
<text x="396.10" y="258.55" font-size="6.4" font-weight="normal" font-style="normal" fill="#151515" stroke="#151515" stroke-width="0.2" textLength="57.80" lengthAdjust="spacingAndGlyphs">Without AGS (n=14)</text>
</svg>
</body></html>
